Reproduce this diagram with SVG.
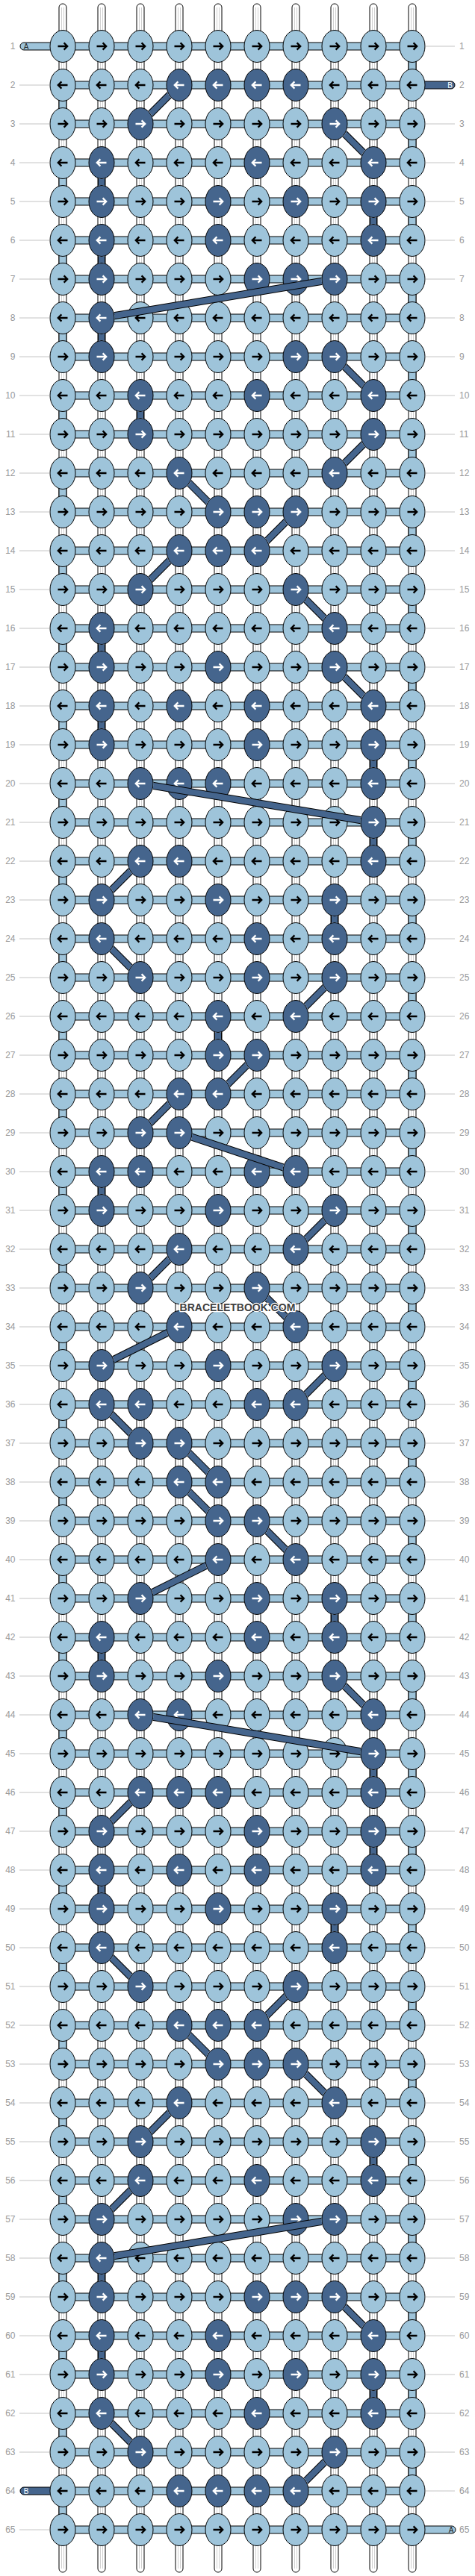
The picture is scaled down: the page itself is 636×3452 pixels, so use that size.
<svg xmlns="http://www.w3.org/2000/svg" width="636" height="3452" viewBox="0 0 636 3452">
<style>
.str rect{fill:#fff;stroke:#000;stroke-width:1}
.str path{stroke:#c4c4c4;stroke-width:.8;fill:none}
.edge{fill:#9ec4da;stroke:#000;stroke-width:1}
.bars rect{fill:#9ec4da;stroke:#000;stroke-width:1}
#knots{color:#000}
#knots ellipse{rx:17px;ry:21.5px;fill:#9ec4da;stroke:#000;stroke-width:1}
#knots .d{color:#fff}
#knots .d ellipse{fill:#45658d}
.ar{fill:none;stroke:currentColor;stroke-width:2.3}
#cut ellipse{rx:17.6px;ry:22px;fill:#000}
.bo path{stroke:#000;stroke-width:10;fill:none}
.bi path{stroke:#45658d;stroke-width:8;fill:none}
.ll{stroke:#c4c4c4;stroke-width:1;fill:none}
.lab text{font-family:'Liberation Sans',Arial,sans-serif;font-size:12px;fill:#999}
.le text{text-anchor:end}
.tl{stroke:#000;stroke-width:1}
.ta{fill:#9ec4da}
.tb{fill:#45658d}
.tt{font-family:'Liberation Sans',Arial,sans-serif;font-size:10px;text-anchor:middle}
.wm{font-family:'Liberation Sans',Arial,sans-serif;font-weight:bold;font-size:14px;text-anchor:middle;fill:#404040;stroke:#fff;stroke-width:2.5;paint-order:stroke;stroke-linejoin:round}
</style>
<defs>
<path id="R" class="ar" d="M-6.5 0H5.5M1.6-4.6L6.2 0L1.6 4.6"/>
<path id="L" class="ar" d="M6.5 0H-5.5M-1.6-4.6L-6.2 0L-1.6 4.6"/>
<mask id="cut" maskUnits="userSpaceOnUse" x="0" y="0" width="636" height="3452">
<rect width="636" height="3452" fill="#fff"/>
<ellipse cx="240" cy="114"/>
<ellipse cx="188" cy="166"/><ellipse cx="448" cy="166"/>
<ellipse cx="136" cy="218"/><ellipse cx="500" cy="218"/>
<ellipse cx="136" cy="270"/><ellipse cx="500" cy="270"/>
<ellipse cx="136" cy="322"/><ellipse cx="500" cy="322"/>
<ellipse cx="136" cy="374"/><ellipse cx="448" cy="374"/>
<ellipse cx="136" cy="426"/>
<ellipse cx="136" cy="478"/><ellipse cx="448" cy="478"/>
<ellipse cx="188" cy="530"/><ellipse cx="500" cy="530"/>
<ellipse cx="188" cy="582"/><ellipse cx="500" cy="582"/>
<ellipse cx="240" cy="634"/><ellipse cx="448" cy="634"/>
<ellipse cx="292" cy="686"/><ellipse cx="396" cy="686"/>
<ellipse cx="240" cy="738"/><ellipse cx="344" cy="738"/>
<ellipse cx="188" cy="790"/><ellipse cx="396" cy="790"/>
<ellipse cx="136" cy="842"/><ellipse cx="448" cy="842"/>
<ellipse cx="136" cy="894"/><ellipse cx="448" cy="894"/>
<ellipse cx="136" cy="946"/><ellipse cx="500" cy="946"/>
<ellipse cx="136" cy="998"/><ellipse cx="500" cy="998"/>
<ellipse cx="188" cy="1050"/><ellipse cx="500" cy="1050"/>
<ellipse cx="500" cy="1102"/>
<ellipse cx="188" cy="1154"/><ellipse cx="500" cy="1154"/>
<ellipse cx="136" cy="1206"/><ellipse cx="448" cy="1206"/>
<ellipse cx="136" cy="1258"/><ellipse cx="448" cy="1258"/>
<ellipse cx="188" cy="1310"/><ellipse cx="448" cy="1310"/>
<ellipse cx="292" cy="1362"/><ellipse cx="396" cy="1362"/>
<ellipse cx="292" cy="1414"/><ellipse cx="344" cy="1414"/>
<ellipse cx="240" cy="1466"/><ellipse cx="292" cy="1466"/>
<ellipse cx="188" cy="1518"/><ellipse cx="240" cy="1518"/>
<ellipse cx="136" cy="1570"/><ellipse cx="396" cy="1570"/>
<ellipse cx="136" cy="1622"/><ellipse cx="448" cy="1622"/>
<ellipse cx="240" cy="1674"/><ellipse cx="396" cy="1674"/>
<ellipse cx="188" cy="1726"/><ellipse cx="344" cy="1726"/>
<ellipse cx="240" cy="1778"/><ellipse cx="396" cy="1778"/>
<ellipse cx="136" cy="1830"/><ellipse cx="448" cy="1830"/>
<ellipse cx="136" cy="1882"/><ellipse cx="396" cy="1882"/>
<ellipse cx="188" cy="1934"/><ellipse cx="240" cy="1934"/>
<ellipse cx="240" cy="1986"/><ellipse cx="292" cy="1986"/>
<ellipse cx="292" cy="2038"/><ellipse cx="344" cy="2038"/>
<ellipse cx="292" cy="2090"/><ellipse cx="396" cy="2090"/>
<ellipse cx="188" cy="2142"/><ellipse cx="448" cy="2142"/>
<ellipse cx="136" cy="2194"/><ellipse cx="448" cy="2194"/>
<ellipse cx="136" cy="2246"/><ellipse cx="448" cy="2246"/>
<ellipse cx="188" cy="2298"/><ellipse cx="500" cy="2298"/>
<ellipse cx="500" cy="2350"/>
<ellipse cx="188" cy="2402"/><ellipse cx="500" cy="2402"/>
<ellipse cx="136" cy="2454"/><ellipse cx="500" cy="2454"/>
<ellipse cx="136" cy="2506"/><ellipse cx="500" cy="2506"/>
<ellipse cx="136" cy="2558"/><ellipse cx="448" cy="2558"/>
<ellipse cx="136" cy="2610"/><ellipse cx="448" cy="2610"/>
<ellipse cx="188" cy="2662"/><ellipse cx="396" cy="2662"/>
<ellipse cx="240" cy="2714"/><ellipse cx="344" cy="2714"/>
<ellipse cx="292" cy="2766"/><ellipse cx="396" cy="2766"/>
<ellipse cx="240" cy="2818"/><ellipse cx="448" cy="2818"/>
<ellipse cx="188" cy="2870"/><ellipse cx="500" cy="2870"/>
<ellipse cx="188" cy="2922"/><ellipse cx="500" cy="2922"/>
<ellipse cx="136" cy="2974"/><ellipse cx="448" cy="2974"/>
<ellipse cx="136" cy="3026"/>
<ellipse cx="136" cy="3078"/><ellipse cx="448" cy="3078"/>
<ellipse cx="136" cy="3130"/><ellipse cx="500" cy="3130"/>
<ellipse cx="136" cy="3182"/><ellipse cx="500" cy="3182"/>
<ellipse cx="136" cy="3234"/><ellipse cx="500" cy="3234"/>
<ellipse cx="188" cy="3286"/><ellipse cx="448" cy="3286"/>
<ellipse cx="396" cy="3338"/>
</mask>
</defs>
<rect width="636" height="3452" fill="#fff"/>
<g id="strings" class="str">
<rect x="79" y="5" width="10" height="3442" rx="5"/>
<rect x="131" y="5" width="10" height="3442" rx="5"/>
<rect x="183" y="5" width="10" height="3442" rx="5"/>
<rect x="235" y="5" width="10" height="3442" rx="5"/>
<rect x="287" y="5" width="10" height="3442" rx="5"/>
<rect x="339" y="5" width="10" height="3442" rx="5"/>
<rect x="391" y="5" width="10" height="3442" rx="5"/>
<rect x="443" y="5" width="10" height="3442" rx="5"/>
<rect x="495" y="5" width="10" height="3442" rx="5"/>
<rect x="547" y="5" width="10" height="3442" rx="5"/>
<path d="M82.5 10V3442M85.5 10V3442M134.5 10V3442M137.5 10V3442M186.5 10V3442M189.5 10V3442M238.5 10V3442M241.5 10V3442M290.5 10V3442M293.5 10V3442M342.5 10V3442M345.5 10V3442M394.5 10V3442M397.5 10V3442M446.5 10V3442M449.5 10V3442M498.5 10V3442M501.5 10V3442M550.5 10V3442M553.5 10V3442"/>
</g>
<g id="a-thread">
<path class="edge" d="M547 62h10v52h-10zM547 166h10v52h-10zM547 270h10v52h-10zM547 374h10v52h-10zM547 478h10v52h-10zM547 582h10v52h-10zM547 686h10v52h-10zM547 790h10v52h-10zM547 894h10v52h-10zM547 998h10v52h-10zM547 1102h10v52h-10zM547 1206h10v52h-10zM547 1310h10v52h-10zM547 1414h10v52h-10zM547 1518h10v52h-10zM547 1622h10v52h-10zM547 1726h10v52h-10zM547 1830h10v52h-10zM547 1934h10v52h-10zM547 2038h10v52h-10zM547 2142h10v52h-10zM547 2246h10v52h-10zM547 2350h10v52h-10zM547 2454h10v52h-10zM547 2558h10v52h-10zM547 2662h10v52h-10zM547 2766h10v52h-10zM547 2870h10v52h-10zM547 2974h10v52h-10zM547 3078h10v52h-10zM547 3182h10v52h-10zM547 3286h10v52h-10z"/>
<path class="edge" d="M79 114h10v52h-10zM79 218h10v52h-10zM79 322h10v52h-10zM79 426h10v52h-10zM79 530h10v52h-10zM79 634h10v52h-10zM79 738h10v52h-10zM79 842h10v52h-10zM79 946h10v52h-10zM79 1050h10v52h-10zM79 1154h10v52h-10zM79 1258h10v52h-10zM79 1362h10v52h-10zM79 1466h10v52h-10zM79 1570h10v52h-10zM79 1674h10v52h-10zM79 1778h10v52h-10zM79 1882h10v52h-10zM79 1986h10v52h-10zM79 2090h10v52h-10zM79 2194h10v52h-10zM79 2298h10v52h-10zM79 2402h10v52h-10zM79 2506h10v52h-10zM79 2610h10v52h-10zM79 2714h10v52h-10zM79 2818h10v52h-10zM79 2922h10v52h-10zM79 3026h10v52h-10zM79 3130h10v52h-10zM79 3234h10v52h-10zM79 3338h10v52h-10z"/>
<g class="bars">
<rect x="84" y="57" width="468" height="10"/><rect x="84" y="109" width="468" height="10"/><rect x="84" y="161" width="468" height="10"/><rect x="84" y="213" width="468" height="10"/><rect x="84" y="265" width="468" height="10"/>
<rect x="84" y="317" width="468" height="10"/><rect x="84" y="369" width="468" height="10"/><rect x="84" y="421" width="468" height="10"/><rect x="84" y="473" width="468" height="10"/><rect x="84" y="525" width="468" height="10"/>
<rect x="84" y="577" width="468" height="10"/><rect x="84" y="629" width="468" height="10"/><rect x="84" y="681" width="468" height="10"/><rect x="84" y="733" width="468" height="10"/><rect x="84" y="785" width="468" height="10"/>
<rect x="84" y="837" width="468" height="10"/><rect x="84" y="889" width="468" height="10"/><rect x="84" y="941" width="468" height="10"/><rect x="84" y="993" width="468" height="10"/><rect x="84" y="1045" width="468" height="10"/>
<rect x="84" y="1097" width="468" height="10"/><rect x="84" y="1149" width="468" height="10"/><rect x="84" y="1201" width="468" height="10"/><rect x="84" y="1253" width="468" height="10"/><rect x="84" y="1305" width="468" height="10"/>
<rect x="84" y="1357" width="468" height="10"/><rect x="84" y="1409" width="468" height="10"/><rect x="84" y="1461" width="468" height="10"/><rect x="84" y="1513" width="468" height="10"/><rect x="84" y="1565" width="468" height="10"/>
<rect x="84" y="1617" width="468" height="10"/><rect x="84" y="1669" width="468" height="10"/><rect x="84" y="1721" width="468" height="10"/><rect x="84" y="1773" width="468" height="10"/><rect x="84" y="1825" width="468" height="10"/>
<rect x="84" y="1877" width="468" height="10"/><rect x="84" y="1929" width="468" height="10"/><rect x="84" y="1981" width="468" height="10"/><rect x="84" y="2033" width="468" height="10"/><rect x="84" y="2085" width="468" height="10"/>
<rect x="84" y="2137" width="468" height="10"/><rect x="84" y="2189" width="468" height="10"/><rect x="84" y="2241" width="468" height="10"/><rect x="84" y="2293" width="468" height="10"/><rect x="84" y="2345" width="468" height="10"/>
<rect x="84" y="2397" width="468" height="10"/><rect x="84" y="2449" width="468" height="10"/><rect x="84" y="2501" width="468" height="10"/><rect x="84" y="2553" width="468" height="10"/><rect x="84" y="2605" width="468" height="10"/>
<rect x="84" y="2657" width="468" height="10"/><rect x="84" y="2709" width="468" height="10"/><rect x="84" y="2761" width="468" height="10"/><rect x="84" y="2813" width="468" height="10"/><rect x="84" y="2865" width="468" height="10"/>
<rect x="84" y="2917" width="468" height="10"/><rect x="84" y="2969" width="468" height="10"/><rect x="84" y="3021" width="468" height="10"/><rect x="84" y="3073" width="468" height="10"/><rect x="84" y="3125" width="468" height="10"/>
<rect x="84" y="3177" width="468" height="10"/><rect x="84" y="3229" width="468" height="10"/><rect x="84" y="3281" width="468" height="10"/><rect x="84" y="3333" width="468" height="10"/><rect x="84" y="3385" width="468" height="10"/>
</g>
</g>
<g id="tails">
<path class="ta tl" d="M84 57H32a5 5 0 0 0 0 10H84z"/><text class="tt" x="35" y="65.5" fill="#222">A</text>
<path class="tb tl" d="M552 109H604a5 5 0 0 1 0 10H552z"/><text class="tt" x="602.5" y="117.5" fill="#fff">B</text>
<path class="tb tl" d="M84 3333H32a5 5 0 0 0 0 10H84z"/><text class="tt" x="35" y="3341.5" fill="#fff">B</text>
<path class="ta tl" d="M552 3385H605a5 5 0 0 1 0 10H552z"/><text class="tt" x="604" y="3393.5" fill="#222">A</text>
</g>
<g id="knots">
<g id="k1_1" transform="translate(84 62)"><ellipse/><use href="#R"/></g><g id="k1_2" transform="translate(136 62)"><ellipse/><use href="#R"/></g><g id="k1_3" transform="translate(188 62)"><ellipse/><use href="#R"/></g><g id="k1_4" transform="translate(240 62)"><ellipse/><use href="#R"/></g><g id="k1_5" transform="translate(292 62)"><ellipse/><use href="#R"/></g><g id="k1_6" transform="translate(344 62)"><ellipse/><use href="#R"/></g><g id="k1_7" transform="translate(396 62)"><ellipse/><use href="#R"/></g><g id="k1_8" transform="translate(448 62)"><ellipse/><use href="#R"/></g><g id="k1_9" transform="translate(500 62)"><ellipse/><use href="#R"/></g><g id="k1_10" transform="translate(552 62)"><ellipse/><use href="#R"/></g>
<g id="k2_1" transform="translate(84 114)"><ellipse/><use href="#L"/></g><g id="k2_2" transform="translate(136 114)"><ellipse/><use href="#L"/></g><g id="k2_3" transform="translate(188 114)"><ellipse/><use href="#L"/></g><g id="k2_4" class="d" transform="translate(240 114)"><ellipse/><use href="#L"/></g><g id="k2_5" class="d" transform="translate(292 114)"><ellipse/><use href="#L"/></g><g id="k2_6" class="d" transform="translate(344 114)"><ellipse/><use href="#L"/></g><g id="k2_7" class="d" transform="translate(396 114)"><ellipse/><use href="#L"/></g><g id="k2_8" transform="translate(448 114)"><ellipse/><use href="#L"/></g><g id="k2_9" transform="translate(500 114)"><ellipse/><use href="#L"/></g><g id="k2_10" transform="translate(552 114)"><ellipse/><use href="#L"/></g>
<g id="k3_1" transform="translate(84 166)"><ellipse/><use href="#R"/></g><g id="k3_2" transform="translate(136 166)"><ellipse/><use href="#R"/></g><g id="k3_3" class="d" transform="translate(188 166)"><ellipse/><use href="#R"/></g><g id="k3_4" transform="translate(240 166)"><ellipse/><use href="#R"/></g><g id="k3_5" transform="translate(292 166)"><ellipse/><use href="#R"/></g><g id="k3_6" transform="translate(344 166)"><ellipse/><use href="#R"/></g><g id="k3_7" transform="translate(396 166)"><ellipse/><use href="#R"/></g><g id="k3_8" class="d" transform="translate(448 166)"><ellipse/><use href="#R"/></g><g id="k3_9" transform="translate(500 166)"><ellipse/><use href="#R"/></g><g id="k3_10" transform="translate(552 166)"><ellipse/><use href="#R"/></g>
<g id="k4_1" transform="translate(84 218)"><ellipse/><use href="#L"/></g><g id="k4_2" class="d" transform="translate(136 218)"><ellipse/><use href="#L"/></g><g id="k4_3" transform="translate(188 218)"><ellipse/><use href="#L"/></g><g id="k4_4" transform="translate(240 218)"><ellipse/><use href="#L"/></g><g id="k4_5" transform="translate(292 218)"><ellipse/><use href="#L"/></g><g id="k4_6" class="d" transform="translate(344 218)"><ellipse/><use href="#L"/></g><g id="k4_7" transform="translate(396 218)"><ellipse/><use href="#L"/></g><g id="k4_8" transform="translate(448 218)"><ellipse/><use href="#L"/></g><g id="k4_9" class="d" transform="translate(500 218)"><ellipse/><use href="#L"/></g><g id="k4_10" transform="translate(552 218)"><ellipse/><use href="#L"/></g>
<g id="k5_1" transform="translate(84 270)"><ellipse/><use href="#R"/></g><g id="k5_2" class="d" transform="translate(136 270)"><ellipse/><use href="#R"/></g><g id="k5_3" transform="translate(188 270)"><ellipse/><use href="#R"/></g><g id="k5_4" transform="translate(240 270)"><ellipse/><use href="#R"/></g><g id="k5_5" class="d" transform="translate(292 270)"><ellipse/><use href="#R"/></g><g id="k5_6" transform="translate(344 270)"><ellipse/><use href="#R"/></g><g id="k5_7" class="d" transform="translate(396 270)"><ellipse/><use href="#R"/></g><g id="k5_8" transform="translate(448 270)"><ellipse/><use href="#R"/></g><g id="k5_9" class="d" transform="translate(500 270)"><ellipse/><use href="#R"/></g><g id="k5_10" transform="translate(552 270)"><ellipse/><use href="#R"/></g>
<g id="k6_1" transform="translate(84 322)"><ellipse/><use href="#L"/></g><g id="k6_2" class="d" transform="translate(136 322)"><ellipse/><use href="#L"/></g><g id="k6_3" transform="translate(188 322)"><ellipse/><use href="#L"/></g><g id="k6_4" transform="translate(240 322)"><ellipse/><use href="#L"/></g><g id="k6_5" class="d" transform="translate(292 322)"><ellipse/><use href="#L"/></g><g id="k6_6" transform="translate(344 322)"><ellipse/><use href="#L"/></g><g id="k6_7" transform="translate(396 322)"><ellipse/><use href="#L"/></g><g id="k6_8" transform="translate(448 322)"><ellipse/><use href="#L"/></g><g id="k6_9" class="d" transform="translate(500 322)"><ellipse/><use href="#L"/></g><g id="k6_10" transform="translate(552 322)"><ellipse/><use href="#L"/></g>
<g id="k7_1" transform="translate(84 374)"><ellipse/><use href="#R"/></g><g id="k7_2" class="d" transform="translate(136 374)"><ellipse/><use href="#R"/></g><g id="k7_3" transform="translate(188 374)"><ellipse/><use href="#R"/></g><g id="k7_4" transform="translate(240 374)"><ellipse/><use href="#R"/></g><g id="k7_5" transform="translate(292 374)"><ellipse/><use href="#R"/></g><g id="k7_6" class="d" transform="translate(344 374)"><ellipse/><use href="#R"/></g><g id="k7_7" class="d" transform="translate(396 374)"><ellipse/><use href="#R"/></g><g id="k7_8" class="d" transform="translate(448 374)"><ellipse/><use href="#R"/></g><g id="k7_9" transform="translate(500 374)"><ellipse/><use href="#R"/></g><g id="k7_10" transform="translate(552 374)"><ellipse/><use href="#R"/></g>
<g id="k8_1" transform="translate(84 426)"><ellipse/><use href="#L"/></g><g id="k8_2" class="d" transform="translate(136 426)"><ellipse/><use href="#L"/></g><g id="k8_3" transform="translate(188 426)"><ellipse/><use href="#L"/></g><g id="k8_4" transform="translate(240 426)"><ellipse/><use href="#L"/></g><g id="k8_5" transform="translate(292 426)"><ellipse/><use href="#L"/></g><g id="k8_6" transform="translate(344 426)"><ellipse/><use href="#L"/></g><g id="k8_7" transform="translate(396 426)"><ellipse/><use href="#L"/></g><g id="k8_8" transform="translate(448 426)"><ellipse/><use href="#L"/></g><g id="k8_9" transform="translate(500 426)"><ellipse/><use href="#L"/></g><g id="k8_10" transform="translate(552 426)"><ellipse/><use href="#L"/></g>
<g id="k9_1" transform="translate(84 478)"><ellipse/><use href="#R"/></g><g id="k9_2" class="d" transform="translate(136 478)"><ellipse/><use href="#R"/></g><g id="k9_3" transform="translate(188 478)"><ellipse/><use href="#R"/></g><g id="k9_4" transform="translate(240 478)"><ellipse/><use href="#R"/></g><g id="k9_5" transform="translate(292 478)"><ellipse/><use href="#R"/></g><g id="k9_6" transform="translate(344 478)"><ellipse/><use href="#R"/></g><g id="k9_7" class="d" transform="translate(396 478)"><ellipse/><use href="#R"/></g><g id="k9_8" class="d" transform="translate(448 478)"><ellipse/><use href="#R"/></g><g id="k9_9" transform="translate(500 478)"><ellipse/><use href="#R"/></g><g id="k9_10" transform="translate(552 478)"><ellipse/><use href="#R"/></g>
<g id="k10_1" transform="translate(84 530)"><ellipse/><use href="#L"/></g><g id="k10_2" transform="translate(136 530)"><ellipse/><use href="#L"/></g><g id="k10_3" class="d" transform="translate(188 530)"><ellipse/><use href="#L"/></g><g id="k10_4" transform="translate(240 530)"><ellipse/><use href="#L"/></g><g id="k10_5" transform="translate(292 530)"><ellipse/><use href="#L"/></g><g id="k10_6" class="d" transform="translate(344 530)"><ellipse/><use href="#L"/></g><g id="k10_7" transform="translate(396 530)"><ellipse/><use href="#L"/></g><g id="k10_8" transform="translate(448 530)"><ellipse/><use href="#L"/></g><g id="k10_9" class="d" transform="translate(500 530)"><ellipse/><use href="#L"/></g><g id="k10_10" transform="translate(552 530)"><ellipse/><use href="#L"/></g>
<g id="k11_1" transform="translate(84 582)"><ellipse/><use href="#R"/></g><g id="k11_2" transform="translate(136 582)"><ellipse/><use href="#R"/></g><g id="k11_3" class="d" transform="translate(188 582)"><ellipse/><use href="#R"/></g><g id="k11_4" transform="translate(240 582)"><ellipse/><use href="#R"/></g><g id="k11_5" transform="translate(292 582)"><ellipse/><use href="#R"/></g><g id="k11_6" transform="translate(344 582)"><ellipse/><use href="#R"/></g><g id="k11_7" transform="translate(396 582)"><ellipse/><use href="#R"/></g><g id="k11_8" transform="translate(448 582)"><ellipse/><use href="#R"/></g><g id="k11_9" class="d" transform="translate(500 582)"><ellipse/><use href="#R"/></g><g id="k11_10" transform="translate(552 582)"><ellipse/><use href="#R"/></g>
<g id="k12_1" transform="translate(84 634)"><ellipse/><use href="#L"/></g><g id="k12_2" transform="translate(136 634)"><ellipse/><use href="#L"/></g><g id="k12_3" transform="translate(188 634)"><ellipse/><use href="#L"/></g><g id="k12_4" class="d" transform="translate(240 634)"><ellipse/><use href="#L"/></g><g id="k12_5" transform="translate(292 634)"><ellipse/><use href="#L"/></g><g id="k12_6" transform="translate(344 634)"><ellipse/><use href="#L"/></g><g id="k12_7" transform="translate(396 634)"><ellipse/><use href="#L"/></g><g id="k12_8" class="d" transform="translate(448 634)"><ellipse/><use href="#L"/></g><g id="k12_9" transform="translate(500 634)"><ellipse/><use href="#L"/></g><g id="k12_10" transform="translate(552 634)"><ellipse/><use href="#L"/></g>
<g id="k13_1" transform="translate(84 686)"><ellipse/><use href="#R"/></g><g id="k13_2" transform="translate(136 686)"><ellipse/><use href="#R"/></g><g id="k13_3" transform="translate(188 686)"><ellipse/><use href="#R"/></g><g id="k13_4" transform="translate(240 686)"><ellipse/><use href="#R"/></g><g id="k13_5" class="d" transform="translate(292 686)"><ellipse/><use href="#R"/></g><g id="k13_6" class="d" transform="translate(344 686)"><ellipse/><use href="#R"/></g><g id="k13_7" class="d" transform="translate(396 686)"><ellipse/><use href="#R"/></g><g id="k13_8" transform="translate(448 686)"><ellipse/><use href="#R"/></g><g id="k13_9" transform="translate(500 686)"><ellipse/><use href="#R"/></g><g id="k13_10" transform="translate(552 686)"><ellipse/><use href="#R"/></g>
<g id="k14_1" transform="translate(84 738)"><ellipse/><use href="#L"/></g><g id="k14_2" transform="translate(136 738)"><ellipse/><use href="#L"/></g><g id="k14_3" transform="translate(188 738)"><ellipse/><use href="#L"/></g><g id="k14_4" class="d" transform="translate(240 738)"><ellipse/><use href="#L"/></g><g id="k14_5" class="d" transform="translate(292 738)"><ellipse/><use href="#L"/></g><g id="k14_6" class="d" transform="translate(344 738)"><ellipse/><use href="#L"/></g><g id="k14_7" transform="translate(396 738)"><ellipse/><use href="#L"/></g><g id="k14_8" transform="translate(448 738)"><ellipse/><use href="#L"/></g><g id="k14_9" transform="translate(500 738)"><ellipse/><use href="#L"/></g><g id="k14_10" transform="translate(552 738)"><ellipse/><use href="#L"/></g>
<g id="k15_1" transform="translate(84 790)"><ellipse/><use href="#R"/></g><g id="k15_2" transform="translate(136 790)"><ellipse/><use href="#R"/></g><g id="k15_3" class="d" transform="translate(188 790)"><ellipse/><use href="#R"/></g><g id="k15_4" transform="translate(240 790)"><ellipse/><use href="#R"/></g><g id="k15_5" transform="translate(292 790)"><ellipse/><use href="#R"/></g><g id="k15_6" transform="translate(344 790)"><ellipse/><use href="#R"/></g><g id="k15_7" class="d" transform="translate(396 790)"><ellipse/><use href="#R"/></g><g id="k15_8" transform="translate(448 790)"><ellipse/><use href="#R"/></g><g id="k15_9" transform="translate(500 790)"><ellipse/><use href="#R"/></g><g id="k15_10" transform="translate(552 790)"><ellipse/><use href="#R"/></g>
<g id="k16_1" transform="translate(84 842)"><ellipse/><use href="#L"/></g><g id="k16_2" class="d" transform="translate(136 842)"><ellipse/><use href="#L"/></g><g id="k16_3" transform="translate(188 842)"><ellipse/><use href="#L"/></g><g id="k16_4" transform="translate(240 842)"><ellipse/><use href="#L"/></g><g id="k16_5" transform="translate(292 842)"><ellipse/><use href="#L"/></g><g id="k16_6" transform="translate(344 842)"><ellipse/><use href="#L"/></g><g id="k16_7" transform="translate(396 842)"><ellipse/><use href="#L"/></g><g id="k16_8" class="d" transform="translate(448 842)"><ellipse/><use href="#L"/></g><g id="k16_9" transform="translate(500 842)"><ellipse/><use href="#L"/></g><g id="k16_10" transform="translate(552 842)"><ellipse/><use href="#L"/></g>
<g id="k17_1" transform="translate(84 894)"><ellipse/><use href="#R"/></g><g id="k17_2" class="d" transform="translate(136 894)"><ellipse/><use href="#R"/></g><g id="k17_3" transform="translate(188 894)"><ellipse/><use href="#R"/></g><g id="k17_4" transform="translate(240 894)"><ellipse/><use href="#R"/></g><g id="k17_5" class="d" transform="translate(292 894)"><ellipse/><use href="#R"/></g><g id="k17_6" transform="translate(344 894)"><ellipse/><use href="#R"/></g><g id="k17_7" transform="translate(396 894)"><ellipse/><use href="#R"/></g><g id="k17_8" class="d" transform="translate(448 894)"><ellipse/><use href="#R"/></g><g id="k17_9" transform="translate(500 894)"><ellipse/><use href="#R"/></g><g id="k17_10" transform="translate(552 894)"><ellipse/><use href="#R"/></g>
<g id="k18_1" transform="translate(84 946)"><ellipse/><use href="#L"/></g><g id="k18_2" class="d" transform="translate(136 946)"><ellipse/><use href="#L"/></g><g id="k18_3" transform="translate(188 946)"><ellipse/><use href="#L"/></g><g id="k18_4" class="d" transform="translate(240 946)"><ellipse/><use href="#L"/></g><g id="k18_5" transform="translate(292 946)"><ellipse/><use href="#L"/></g><g id="k18_6" class="d" transform="translate(344 946)"><ellipse/><use href="#L"/></g><g id="k18_7" transform="translate(396 946)"><ellipse/><use href="#L"/></g><g id="k18_8" transform="translate(448 946)"><ellipse/><use href="#L"/></g><g id="k18_9" class="d" transform="translate(500 946)"><ellipse/><use href="#L"/></g><g id="k18_10" transform="translate(552 946)"><ellipse/><use href="#L"/></g>
<g id="k19_1" transform="translate(84 998)"><ellipse/><use href="#R"/></g><g id="k19_2" class="d" transform="translate(136 998)"><ellipse/><use href="#R"/></g><g id="k19_3" transform="translate(188 998)"><ellipse/><use href="#R"/></g><g id="k19_4" transform="translate(240 998)"><ellipse/><use href="#R"/></g><g id="k19_5" transform="translate(292 998)"><ellipse/><use href="#R"/></g><g id="k19_6" class="d" transform="translate(344 998)"><ellipse/><use href="#R"/></g><g id="k19_7" transform="translate(396 998)"><ellipse/><use href="#R"/></g><g id="k19_8" transform="translate(448 998)"><ellipse/><use href="#R"/></g><g id="k19_9" class="d" transform="translate(500 998)"><ellipse/><use href="#R"/></g><g id="k19_10" transform="translate(552 998)"><ellipse/><use href="#R"/></g>
<g id="k20_1" transform="translate(84 1050)"><ellipse/><use href="#L"/></g><g id="k20_2" transform="translate(136 1050)"><ellipse/><use href="#L"/></g><g id="k20_3" class="d" transform="translate(188 1050)"><ellipse/><use href="#L"/></g><g id="k20_4" class="d" transform="translate(240 1050)"><ellipse/><use href="#L"/></g><g id="k20_5" class="d" transform="translate(292 1050)"><ellipse/><use href="#L"/></g><g id="k20_6" transform="translate(344 1050)"><ellipse/><use href="#L"/></g><g id="k20_7" transform="translate(396 1050)"><ellipse/><use href="#L"/></g><g id="k20_8" transform="translate(448 1050)"><ellipse/><use href="#L"/></g><g id="k20_9" class="d" transform="translate(500 1050)"><ellipse/><use href="#L"/></g><g id="k20_10" transform="translate(552 1050)"><ellipse/><use href="#L"/></g>
<g id="k21_1" transform="translate(84 1102)"><ellipse/><use href="#R"/></g><g id="k21_2" transform="translate(136 1102)"><ellipse/><use href="#R"/></g><g id="k21_3" transform="translate(188 1102)"><ellipse/><use href="#R"/></g><g id="k21_4" transform="translate(240 1102)"><ellipse/><use href="#R"/></g><g id="k21_5" transform="translate(292 1102)"><ellipse/><use href="#R"/></g><g id="k21_6" transform="translate(344 1102)"><ellipse/><use href="#R"/></g><g id="k21_7" transform="translate(396 1102)"><ellipse/><use href="#R"/></g><g id="k21_8" transform="translate(448 1102)"><ellipse/><use href="#R"/></g><g id="k21_9" class="d" transform="translate(500 1102)"><ellipse/><use href="#R"/></g><g id="k21_10" transform="translate(552 1102)"><ellipse/><use href="#R"/></g>
<g id="k22_1" transform="translate(84 1154)"><ellipse/><use href="#L"/></g><g id="k22_2" transform="translate(136 1154)"><ellipse/><use href="#L"/></g><g id="k22_3" class="d" transform="translate(188 1154)"><ellipse/><use href="#L"/></g><g id="k22_4" class="d" transform="translate(240 1154)"><ellipse/><use href="#L"/></g><g id="k22_5" transform="translate(292 1154)"><ellipse/><use href="#L"/></g><g id="k22_6" transform="translate(344 1154)"><ellipse/><use href="#L"/></g><g id="k22_7" transform="translate(396 1154)"><ellipse/><use href="#L"/></g><g id="k22_8" transform="translate(448 1154)"><ellipse/><use href="#L"/></g><g id="k22_9" class="d" transform="translate(500 1154)"><ellipse/><use href="#L"/></g><g id="k22_10" transform="translate(552 1154)"><ellipse/><use href="#L"/></g>
<g id="k23_1" transform="translate(84 1206)"><ellipse/><use href="#R"/></g><g id="k23_2" class="d" transform="translate(136 1206)"><ellipse/><use href="#R"/></g><g id="k23_3" transform="translate(188 1206)"><ellipse/><use href="#R"/></g><g id="k23_4" transform="translate(240 1206)"><ellipse/><use href="#R"/></g><g id="k23_5" class="d" transform="translate(292 1206)"><ellipse/><use href="#R"/></g><g id="k23_6" transform="translate(344 1206)"><ellipse/><use href="#R"/></g><g id="k23_7" transform="translate(396 1206)"><ellipse/><use href="#R"/></g><g id="k23_8" class="d" transform="translate(448 1206)"><ellipse/><use href="#R"/></g><g id="k23_9" transform="translate(500 1206)"><ellipse/><use href="#R"/></g><g id="k23_10" transform="translate(552 1206)"><ellipse/><use href="#R"/></g>
<g id="k24_1" transform="translate(84 1258)"><ellipse/><use href="#L"/></g><g id="k24_2" class="d" transform="translate(136 1258)"><ellipse/><use href="#L"/></g><g id="k24_3" transform="translate(188 1258)"><ellipse/><use href="#L"/></g><g id="k24_4" transform="translate(240 1258)"><ellipse/><use href="#L"/></g><g id="k24_5" transform="translate(292 1258)"><ellipse/><use href="#L"/></g><g id="k24_6" class="d" transform="translate(344 1258)"><ellipse/><use href="#L"/></g><g id="k24_7" transform="translate(396 1258)"><ellipse/><use href="#L"/></g><g id="k24_8" class="d" transform="translate(448 1258)"><ellipse/><use href="#L"/></g><g id="k24_9" transform="translate(500 1258)"><ellipse/><use href="#L"/></g><g id="k24_10" transform="translate(552 1258)"><ellipse/><use href="#L"/></g>
<g id="k25_1" transform="translate(84 1310)"><ellipse/><use href="#R"/></g><g id="k25_2" transform="translate(136 1310)"><ellipse/><use href="#R"/></g><g id="k25_3" class="d" transform="translate(188 1310)"><ellipse/><use href="#R"/></g><g id="k25_4" transform="translate(240 1310)"><ellipse/><use href="#R"/></g><g id="k25_5" transform="translate(292 1310)"><ellipse/><use href="#R"/></g><g id="k25_6" class="d" transform="translate(344 1310)"><ellipse/><use href="#R"/></g><g id="k25_7" transform="translate(396 1310)"><ellipse/><use href="#R"/></g><g id="k25_8" class="d" transform="translate(448 1310)"><ellipse/><use href="#R"/></g><g id="k25_9" transform="translate(500 1310)"><ellipse/><use href="#R"/></g><g id="k25_10" transform="translate(552 1310)"><ellipse/><use href="#R"/></g>
<g id="k26_1" transform="translate(84 1362)"><ellipse/><use href="#L"/></g><g id="k26_2" transform="translate(136 1362)"><ellipse/><use href="#L"/></g><g id="k26_3" transform="translate(188 1362)"><ellipse/><use href="#L"/></g><g id="k26_4" transform="translate(240 1362)"><ellipse/><use href="#L"/></g><g id="k26_5" class="d" transform="translate(292 1362)"><ellipse/><use href="#L"/></g><g id="k26_6" transform="translate(344 1362)"><ellipse/><use href="#L"/></g><g id="k26_7" class="d" transform="translate(396 1362)"><ellipse/><use href="#L"/></g><g id="k26_8" transform="translate(448 1362)"><ellipse/><use href="#L"/></g><g id="k26_9" transform="translate(500 1362)"><ellipse/><use href="#L"/></g><g id="k26_10" transform="translate(552 1362)"><ellipse/><use href="#L"/></g>
<g id="k27_1" transform="translate(84 1414)"><ellipse/><use href="#R"/></g><g id="k27_2" transform="translate(136 1414)"><ellipse/><use href="#R"/></g><g id="k27_3" transform="translate(188 1414)"><ellipse/><use href="#R"/></g><g id="k27_4" transform="translate(240 1414)"><ellipse/><use href="#R"/></g><g id="k27_5" class="d" transform="translate(292 1414)"><ellipse/><use href="#R"/></g><g id="k27_6" class="d" transform="translate(344 1414)"><ellipse/><use href="#R"/></g><g id="k27_7" transform="translate(396 1414)"><ellipse/><use href="#R"/></g><g id="k27_8" transform="translate(448 1414)"><ellipse/><use href="#R"/></g><g id="k27_9" transform="translate(500 1414)"><ellipse/><use href="#R"/></g><g id="k27_10" transform="translate(552 1414)"><ellipse/><use href="#R"/></g>
<g id="k28_1" transform="translate(84 1466)"><ellipse/><use href="#L"/></g><g id="k28_2" transform="translate(136 1466)"><ellipse/><use href="#L"/></g><g id="k28_3" transform="translate(188 1466)"><ellipse/><use href="#L"/></g><g id="k28_4" class="d" transform="translate(240 1466)"><ellipse/><use href="#L"/></g><g id="k28_5" class="d" transform="translate(292 1466)"><ellipse/><use href="#L"/></g><g id="k28_6" transform="translate(344 1466)"><ellipse/><use href="#L"/></g><g id="k28_7" transform="translate(396 1466)"><ellipse/><use href="#L"/></g><g id="k28_8" transform="translate(448 1466)"><ellipse/><use href="#L"/></g><g id="k28_9" transform="translate(500 1466)"><ellipse/><use href="#L"/></g><g id="k28_10" transform="translate(552 1466)"><ellipse/><use href="#L"/></g>
<g id="k29_1" transform="translate(84 1518)"><ellipse/><use href="#R"/></g><g id="k29_2" transform="translate(136 1518)"><ellipse/><use href="#R"/></g><g id="k29_3" class="d" transform="translate(188 1518)"><ellipse/><use href="#R"/></g><g id="k29_4" class="d" transform="translate(240 1518)"><ellipse/><use href="#R"/></g><g id="k29_5" transform="translate(292 1518)"><ellipse/><use href="#R"/></g><g id="k29_6" transform="translate(344 1518)"><ellipse/><use href="#R"/></g><g id="k29_7" transform="translate(396 1518)"><ellipse/><use href="#R"/></g><g id="k29_8" transform="translate(448 1518)"><ellipse/><use href="#R"/></g><g id="k29_9" transform="translate(500 1518)"><ellipse/><use href="#R"/></g><g id="k29_10" transform="translate(552 1518)"><ellipse/><use href="#R"/></g>
<g id="k30_1" transform="translate(84 1570)"><ellipse/><use href="#L"/></g><g id="k30_2" class="d" transform="translate(136 1570)"><ellipse/><use href="#L"/></g><g id="k30_3" class="d" transform="translate(188 1570)"><ellipse/><use href="#L"/></g><g id="k30_4" transform="translate(240 1570)"><ellipse/><use href="#L"/></g><g id="k30_5" transform="translate(292 1570)"><ellipse/><use href="#L"/></g><g id="k30_6" class="d" transform="translate(344 1570)"><ellipse/><use href="#L"/></g><g id="k30_7" class="d" transform="translate(396 1570)"><ellipse/><use href="#L"/></g><g id="k30_8" transform="translate(448 1570)"><ellipse/><use href="#L"/></g><g id="k30_9" transform="translate(500 1570)"><ellipse/><use href="#L"/></g><g id="k30_10" transform="translate(552 1570)"><ellipse/><use href="#L"/></g>
<g id="k31_1" transform="translate(84 1622)"><ellipse/><use href="#R"/></g><g id="k31_2" class="d" transform="translate(136 1622)"><ellipse/><use href="#R"/></g><g id="k31_3" transform="translate(188 1622)"><ellipse/><use href="#R"/></g><g id="k31_4" transform="translate(240 1622)"><ellipse/><use href="#R"/></g><g id="k31_5" class="d" transform="translate(292 1622)"><ellipse/><use href="#R"/></g><g id="k31_6" transform="translate(344 1622)"><ellipse/><use href="#R"/></g><g id="k31_7" transform="translate(396 1622)"><ellipse/><use href="#R"/></g><g id="k31_8" class="d" transform="translate(448 1622)"><ellipse/><use href="#R"/></g><g id="k31_9" transform="translate(500 1622)"><ellipse/><use href="#R"/></g><g id="k31_10" transform="translate(552 1622)"><ellipse/><use href="#R"/></g>
<g id="k32_1" transform="translate(84 1674)"><ellipse/><use href="#L"/></g><g id="k32_2" transform="translate(136 1674)"><ellipse/><use href="#L"/></g><g id="k32_3" transform="translate(188 1674)"><ellipse/><use href="#L"/></g><g id="k32_4" class="d" transform="translate(240 1674)"><ellipse/><use href="#L"/></g><g id="k32_5" transform="translate(292 1674)"><ellipse/><use href="#L"/></g><g id="k32_6" transform="translate(344 1674)"><ellipse/><use href="#L"/></g><g id="k32_7" class="d" transform="translate(396 1674)"><ellipse/><use href="#L"/></g><g id="k32_8" transform="translate(448 1674)"><ellipse/><use href="#L"/></g><g id="k32_9" transform="translate(500 1674)"><ellipse/><use href="#L"/></g><g id="k32_10" transform="translate(552 1674)"><ellipse/><use href="#L"/></g>
<g id="k33_1" transform="translate(84 1726)"><ellipse/><use href="#R"/></g><g id="k33_2" transform="translate(136 1726)"><ellipse/><use href="#R"/></g><g id="k33_3" class="d" transform="translate(188 1726)"><ellipse/><use href="#R"/></g><g id="k33_4" transform="translate(240 1726)"><ellipse/><use href="#R"/></g><g id="k33_5" transform="translate(292 1726)"><ellipse/><use href="#R"/></g><g id="k33_6" class="d" transform="translate(344 1726)"><ellipse/><use href="#R"/></g><g id="k33_7" transform="translate(396 1726)"><ellipse/><use href="#R"/></g><g id="k33_8" transform="translate(448 1726)"><ellipse/><use href="#R"/></g><g id="k33_9" transform="translate(500 1726)"><ellipse/><use href="#R"/></g><g id="k33_10" transform="translate(552 1726)"><ellipse/><use href="#R"/></g>
<g id="k34_1" transform="translate(84 1778)"><ellipse/><use href="#L"/></g><g id="k34_2" transform="translate(136 1778)"><ellipse/><use href="#L"/></g><g id="k34_3" transform="translate(188 1778)"><ellipse/><use href="#L"/></g><g id="k34_4" class="d" transform="translate(240 1778)"><ellipse/><use href="#L"/></g><g id="k34_5" transform="translate(292 1778)"><ellipse/><use href="#L"/></g><g id="k34_6" transform="translate(344 1778)"><ellipse/><use href="#L"/></g><g id="k34_7" class="d" transform="translate(396 1778)"><ellipse/><use href="#L"/></g><g id="k34_8" transform="translate(448 1778)"><ellipse/><use href="#L"/></g><g id="k34_9" transform="translate(500 1778)"><ellipse/><use href="#L"/></g><g id="k34_10" transform="translate(552 1778)"><ellipse/><use href="#L"/></g>
<g id="k35_1" transform="translate(84 1830)"><ellipse/><use href="#R"/></g><g id="k35_2" class="d" transform="translate(136 1830)"><ellipse/><use href="#R"/></g><g id="k35_3" transform="translate(188 1830)"><ellipse/><use href="#R"/></g><g id="k35_4" transform="translate(240 1830)"><ellipse/><use href="#R"/></g><g id="k35_5" class="d" transform="translate(292 1830)"><ellipse/><use href="#R"/></g><g id="k35_6" transform="translate(344 1830)"><ellipse/><use href="#R"/></g><g id="k35_7" transform="translate(396 1830)"><ellipse/><use href="#R"/></g><g id="k35_8" class="d" transform="translate(448 1830)"><ellipse/><use href="#R"/></g><g id="k35_9" transform="translate(500 1830)"><ellipse/><use href="#R"/></g><g id="k35_10" transform="translate(552 1830)"><ellipse/><use href="#R"/></g>
<g id="k36_1" transform="translate(84 1882)"><ellipse/><use href="#L"/></g><g id="k36_2" class="d" transform="translate(136 1882)"><ellipse/><use href="#L"/></g><g id="k36_3" class="d" transform="translate(188 1882)"><ellipse/><use href="#L"/></g><g id="k36_4" transform="translate(240 1882)"><ellipse/><use href="#L"/></g><g id="k36_5" transform="translate(292 1882)"><ellipse/><use href="#L"/></g><g id="k36_6" class="d" transform="translate(344 1882)"><ellipse/><use href="#L"/></g><g id="k36_7" class="d" transform="translate(396 1882)"><ellipse/><use href="#L"/></g><g id="k36_8" transform="translate(448 1882)"><ellipse/><use href="#L"/></g><g id="k36_9" transform="translate(500 1882)"><ellipse/><use href="#L"/></g><g id="k36_10" transform="translate(552 1882)"><ellipse/><use href="#L"/></g>
<g id="k37_1" transform="translate(84 1934)"><ellipse/><use href="#R"/></g><g id="k37_2" transform="translate(136 1934)"><ellipse/><use href="#R"/></g><g id="k37_3" class="d" transform="translate(188 1934)"><ellipse/><use href="#R"/></g><g id="k37_4" class="d" transform="translate(240 1934)"><ellipse/><use href="#R"/></g><g id="k37_5" transform="translate(292 1934)"><ellipse/><use href="#R"/></g><g id="k37_6" transform="translate(344 1934)"><ellipse/><use href="#R"/></g><g id="k37_7" transform="translate(396 1934)"><ellipse/><use href="#R"/></g><g id="k37_8" transform="translate(448 1934)"><ellipse/><use href="#R"/></g><g id="k37_9" transform="translate(500 1934)"><ellipse/><use href="#R"/></g><g id="k37_10" transform="translate(552 1934)"><ellipse/><use href="#R"/></g>
<g id="k38_1" transform="translate(84 1986)"><ellipse/><use href="#L"/></g><g id="k38_2" transform="translate(136 1986)"><ellipse/><use href="#L"/></g><g id="k38_3" transform="translate(188 1986)"><ellipse/><use href="#L"/></g><g id="k38_4" class="d" transform="translate(240 1986)"><ellipse/><use href="#L"/></g><g id="k38_5" class="d" transform="translate(292 1986)"><ellipse/><use href="#L"/></g><g id="k38_6" transform="translate(344 1986)"><ellipse/><use href="#L"/></g><g id="k38_7" transform="translate(396 1986)"><ellipse/><use href="#L"/></g><g id="k38_8" transform="translate(448 1986)"><ellipse/><use href="#L"/></g><g id="k38_9" transform="translate(500 1986)"><ellipse/><use href="#L"/></g><g id="k38_10" transform="translate(552 1986)"><ellipse/><use href="#L"/></g>
<g id="k39_1" transform="translate(84 2038)"><ellipse/><use href="#R"/></g><g id="k39_2" transform="translate(136 2038)"><ellipse/><use href="#R"/></g><g id="k39_3" transform="translate(188 2038)"><ellipse/><use href="#R"/></g><g id="k39_4" transform="translate(240 2038)"><ellipse/><use href="#R"/></g><g id="k39_5" class="d" transform="translate(292 2038)"><ellipse/><use href="#R"/></g><g id="k39_6" class="d" transform="translate(344 2038)"><ellipse/><use href="#R"/></g><g id="k39_7" transform="translate(396 2038)"><ellipse/><use href="#R"/></g><g id="k39_8" transform="translate(448 2038)"><ellipse/><use href="#R"/></g><g id="k39_9" transform="translate(500 2038)"><ellipse/><use href="#R"/></g><g id="k39_10" transform="translate(552 2038)"><ellipse/><use href="#R"/></g>
<g id="k40_1" transform="translate(84 2090)"><ellipse/><use href="#L"/></g><g id="k40_2" transform="translate(136 2090)"><ellipse/><use href="#L"/></g><g id="k40_3" transform="translate(188 2090)"><ellipse/><use href="#L"/></g><g id="k40_4" transform="translate(240 2090)"><ellipse/><use href="#L"/></g><g id="k40_5" class="d" transform="translate(292 2090)"><ellipse/><use href="#L"/></g><g id="k40_6" transform="translate(344 2090)"><ellipse/><use href="#L"/></g><g id="k40_7" class="d" transform="translate(396 2090)"><ellipse/><use href="#L"/></g><g id="k40_8" transform="translate(448 2090)"><ellipse/><use href="#L"/></g><g id="k40_9" transform="translate(500 2090)"><ellipse/><use href="#L"/></g><g id="k40_10" transform="translate(552 2090)"><ellipse/><use href="#L"/></g>
<g id="k41_1" transform="translate(84 2142)"><ellipse/><use href="#R"/></g><g id="k41_2" transform="translate(136 2142)"><ellipse/><use href="#R"/></g><g id="k41_3" class="d" transform="translate(188 2142)"><ellipse/><use href="#R"/></g><g id="k41_4" transform="translate(240 2142)"><ellipse/><use href="#R"/></g><g id="k41_5" transform="translate(292 2142)"><ellipse/><use href="#R"/></g><g id="k41_6" class="d" transform="translate(344 2142)"><ellipse/><use href="#R"/></g><g id="k41_7" transform="translate(396 2142)"><ellipse/><use href="#R"/></g><g id="k41_8" class="d" transform="translate(448 2142)"><ellipse/><use href="#R"/></g><g id="k41_9" transform="translate(500 2142)"><ellipse/><use href="#R"/></g><g id="k41_10" transform="translate(552 2142)"><ellipse/><use href="#R"/></g>
<g id="k42_1" transform="translate(84 2194)"><ellipse/><use href="#L"/></g><g id="k42_2" class="d" transform="translate(136 2194)"><ellipse/><use href="#L"/></g><g id="k42_3" transform="translate(188 2194)"><ellipse/><use href="#L"/></g><g id="k42_4" transform="translate(240 2194)"><ellipse/><use href="#L"/></g><g id="k42_5" transform="translate(292 2194)"><ellipse/><use href="#L"/></g><g id="k42_6" class="d" transform="translate(344 2194)"><ellipse/><use href="#L"/></g><g id="k42_7" transform="translate(396 2194)"><ellipse/><use href="#L"/></g><g id="k42_8" class="d" transform="translate(448 2194)"><ellipse/><use href="#L"/></g><g id="k42_9" transform="translate(500 2194)"><ellipse/><use href="#L"/></g><g id="k42_10" transform="translate(552 2194)"><ellipse/><use href="#L"/></g>
<g id="k43_1" transform="translate(84 2246)"><ellipse/><use href="#R"/></g><g id="k43_2" class="d" transform="translate(136 2246)"><ellipse/><use href="#R"/></g><g id="k43_3" transform="translate(188 2246)"><ellipse/><use href="#R"/></g><g id="k43_4" transform="translate(240 2246)"><ellipse/><use href="#R"/></g><g id="k43_5" class="d" transform="translate(292 2246)"><ellipse/><use href="#R"/></g><g id="k43_6" transform="translate(344 2246)"><ellipse/><use href="#R"/></g><g id="k43_7" transform="translate(396 2246)"><ellipse/><use href="#R"/></g><g id="k43_8" class="d" transform="translate(448 2246)"><ellipse/><use href="#R"/></g><g id="k43_9" transform="translate(500 2246)"><ellipse/><use href="#R"/></g><g id="k43_10" transform="translate(552 2246)"><ellipse/><use href="#R"/></g>
<g id="k44_1" transform="translate(84 2298)"><ellipse/><use href="#L"/></g><g id="k44_2" transform="translate(136 2298)"><ellipse/><use href="#L"/></g><g id="k44_3" class="d" transform="translate(188 2298)"><ellipse/><use href="#L"/></g><g id="k44_4" class="d" transform="translate(240 2298)"><ellipse/><use href="#L"/></g><g id="k44_5" transform="translate(292 2298)"><ellipse/><use href="#L"/></g><g id="k44_6" transform="translate(344 2298)"><ellipse/><use href="#L"/></g><g id="k44_7" transform="translate(396 2298)"><ellipse/><use href="#L"/></g><g id="k44_8" transform="translate(448 2298)"><ellipse/><use href="#L"/></g><g id="k44_9" class="d" transform="translate(500 2298)"><ellipse/><use href="#L"/></g><g id="k44_10" transform="translate(552 2298)"><ellipse/><use href="#L"/></g>
<g id="k45_1" transform="translate(84 2350)"><ellipse/><use href="#R"/></g><g id="k45_2" transform="translate(136 2350)"><ellipse/><use href="#R"/></g><g id="k45_3" transform="translate(188 2350)"><ellipse/><use href="#R"/></g><g id="k45_4" transform="translate(240 2350)"><ellipse/><use href="#R"/></g><g id="k45_5" transform="translate(292 2350)"><ellipse/><use href="#R"/></g><g id="k45_6" transform="translate(344 2350)"><ellipse/><use href="#R"/></g><g id="k45_7" transform="translate(396 2350)"><ellipse/><use href="#R"/></g><g id="k45_8" transform="translate(448 2350)"><ellipse/><use href="#R"/></g><g id="k45_9" class="d" transform="translate(500 2350)"><ellipse/><use href="#R"/></g><g id="k45_10" transform="translate(552 2350)"><ellipse/><use href="#R"/></g>
<g id="k46_1" transform="translate(84 2402)"><ellipse/><use href="#L"/></g><g id="k46_2" transform="translate(136 2402)"><ellipse/><use href="#L"/></g><g id="k46_3" class="d" transform="translate(188 2402)"><ellipse/><use href="#L"/></g><g id="k46_4" class="d" transform="translate(240 2402)"><ellipse/><use href="#L"/></g><g id="k46_5" class="d" transform="translate(292 2402)"><ellipse/><use href="#L"/></g><g id="k46_6" transform="translate(344 2402)"><ellipse/><use href="#L"/></g><g id="k46_7" transform="translate(396 2402)"><ellipse/><use href="#L"/></g><g id="k46_8" transform="translate(448 2402)"><ellipse/><use href="#L"/></g><g id="k46_9" class="d" transform="translate(500 2402)"><ellipse/><use href="#L"/></g><g id="k46_10" transform="translate(552 2402)"><ellipse/><use href="#L"/></g>
<g id="k47_1" transform="translate(84 2454)"><ellipse/><use href="#R"/></g><g id="k47_2" class="d" transform="translate(136 2454)"><ellipse/><use href="#R"/></g><g id="k47_3" transform="translate(188 2454)"><ellipse/><use href="#R"/></g><g id="k47_4" transform="translate(240 2454)"><ellipse/><use href="#R"/></g><g id="k47_5" transform="translate(292 2454)"><ellipse/><use href="#R"/></g><g id="k47_6" class="d" transform="translate(344 2454)"><ellipse/><use href="#R"/></g><g id="k47_7" transform="translate(396 2454)"><ellipse/><use href="#R"/></g><g id="k47_8" transform="translate(448 2454)"><ellipse/><use href="#R"/></g><g id="k47_9" class="d" transform="translate(500 2454)"><ellipse/><use href="#R"/></g><g id="k47_10" transform="translate(552 2454)"><ellipse/><use href="#R"/></g>
<g id="k48_1" transform="translate(84 2506)"><ellipse/><use href="#L"/></g><g id="k48_2" class="d" transform="translate(136 2506)"><ellipse/><use href="#L"/></g><g id="k48_3" transform="translate(188 2506)"><ellipse/><use href="#L"/></g><g id="k48_4" class="d" transform="translate(240 2506)"><ellipse/><use href="#L"/></g><g id="k48_5" transform="translate(292 2506)"><ellipse/><use href="#L"/></g><g id="k48_6" class="d" transform="translate(344 2506)"><ellipse/><use href="#L"/></g><g id="k48_7" transform="translate(396 2506)"><ellipse/><use href="#L"/></g><g id="k48_8" transform="translate(448 2506)"><ellipse/><use href="#L"/></g><g id="k48_9" class="d" transform="translate(500 2506)"><ellipse/><use href="#L"/></g><g id="k48_10" transform="translate(552 2506)"><ellipse/><use href="#L"/></g>
<g id="k49_1" transform="translate(84 2558)"><ellipse/><use href="#R"/></g><g id="k49_2" class="d" transform="translate(136 2558)"><ellipse/><use href="#R"/></g><g id="k49_3" transform="translate(188 2558)"><ellipse/><use href="#R"/></g><g id="k49_4" transform="translate(240 2558)"><ellipse/><use href="#R"/></g><g id="k49_5" class="d" transform="translate(292 2558)"><ellipse/><use href="#R"/></g><g id="k49_6" transform="translate(344 2558)"><ellipse/><use href="#R"/></g><g id="k49_7" transform="translate(396 2558)"><ellipse/><use href="#R"/></g><g id="k49_8" class="d" transform="translate(448 2558)"><ellipse/><use href="#R"/></g><g id="k49_9" transform="translate(500 2558)"><ellipse/><use href="#R"/></g><g id="k49_10" transform="translate(552 2558)"><ellipse/><use href="#R"/></g>
<g id="k50_1" transform="translate(84 2610)"><ellipse/><use href="#L"/></g><g id="k50_2" class="d" transform="translate(136 2610)"><ellipse/><use href="#L"/></g><g id="k50_3" transform="translate(188 2610)"><ellipse/><use href="#L"/></g><g id="k50_4" transform="translate(240 2610)"><ellipse/><use href="#L"/></g><g id="k50_5" transform="translate(292 2610)"><ellipse/><use href="#L"/></g><g id="k50_6" transform="translate(344 2610)"><ellipse/><use href="#L"/></g><g id="k50_7" transform="translate(396 2610)"><ellipse/><use href="#L"/></g><g id="k50_8" class="d" transform="translate(448 2610)"><ellipse/><use href="#L"/></g><g id="k50_9" transform="translate(500 2610)"><ellipse/><use href="#L"/></g><g id="k50_10" transform="translate(552 2610)"><ellipse/><use href="#L"/></g>
<g id="k51_1" transform="translate(84 2662)"><ellipse/><use href="#R"/></g><g id="k51_2" transform="translate(136 2662)"><ellipse/><use href="#R"/></g><g id="k51_3" class="d" transform="translate(188 2662)"><ellipse/><use href="#R"/></g><g id="k51_4" transform="translate(240 2662)"><ellipse/><use href="#R"/></g><g id="k51_5" transform="translate(292 2662)"><ellipse/><use href="#R"/></g><g id="k51_6" transform="translate(344 2662)"><ellipse/><use href="#R"/></g><g id="k51_7" class="d" transform="translate(396 2662)"><ellipse/><use href="#R"/></g><g id="k51_8" transform="translate(448 2662)"><ellipse/><use href="#R"/></g><g id="k51_9" transform="translate(500 2662)"><ellipse/><use href="#R"/></g><g id="k51_10" transform="translate(552 2662)"><ellipse/><use href="#R"/></g>
<g id="k52_1" transform="translate(84 2714)"><ellipse/><use href="#L"/></g><g id="k52_2" transform="translate(136 2714)"><ellipse/><use href="#L"/></g><g id="k52_3" transform="translate(188 2714)"><ellipse/><use href="#L"/></g><g id="k52_4" class="d" transform="translate(240 2714)"><ellipse/><use href="#L"/></g><g id="k52_5" class="d" transform="translate(292 2714)"><ellipse/><use href="#L"/></g><g id="k52_6" class="d" transform="translate(344 2714)"><ellipse/><use href="#L"/></g><g id="k52_7" transform="translate(396 2714)"><ellipse/><use href="#L"/></g><g id="k52_8" transform="translate(448 2714)"><ellipse/><use href="#L"/></g><g id="k52_9" transform="translate(500 2714)"><ellipse/><use href="#L"/></g><g id="k52_10" transform="translate(552 2714)"><ellipse/><use href="#L"/></g>
<g id="k53_1" transform="translate(84 2766)"><ellipse/><use href="#R"/></g><g id="k53_2" transform="translate(136 2766)"><ellipse/><use href="#R"/></g><g id="k53_3" transform="translate(188 2766)"><ellipse/><use href="#R"/></g><g id="k53_4" transform="translate(240 2766)"><ellipse/><use href="#R"/></g><g id="k53_5" class="d" transform="translate(292 2766)"><ellipse/><use href="#R"/></g><g id="k53_6" class="d" transform="translate(344 2766)"><ellipse/><use href="#R"/></g><g id="k53_7" class="d" transform="translate(396 2766)"><ellipse/><use href="#R"/></g><g id="k53_8" transform="translate(448 2766)"><ellipse/><use href="#R"/></g><g id="k53_9" transform="translate(500 2766)"><ellipse/><use href="#R"/></g><g id="k53_10" transform="translate(552 2766)"><ellipse/><use href="#R"/></g>
<g id="k54_1" transform="translate(84 2818)"><ellipse/><use href="#L"/></g><g id="k54_2" transform="translate(136 2818)"><ellipse/><use href="#L"/></g><g id="k54_3" transform="translate(188 2818)"><ellipse/><use href="#L"/></g><g id="k54_4" class="d" transform="translate(240 2818)"><ellipse/><use href="#L"/></g><g id="k54_5" transform="translate(292 2818)"><ellipse/><use href="#L"/></g><g id="k54_6" transform="translate(344 2818)"><ellipse/><use href="#L"/></g><g id="k54_7" transform="translate(396 2818)"><ellipse/><use href="#L"/></g><g id="k54_8" class="d" transform="translate(448 2818)"><ellipse/><use href="#L"/></g><g id="k54_9" transform="translate(500 2818)"><ellipse/><use href="#L"/></g><g id="k54_10" transform="translate(552 2818)"><ellipse/><use href="#L"/></g>
<g id="k55_1" transform="translate(84 2870)"><ellipse/><use href="#R"/></g><g id="k55_2" transform="translate(136 2870)"><ellipse/><use href="#R"/></g><g id="k55_3" class="d" transform="translate(188 2870)"><ellipse/><use href="#R"/></g><g id="k55_4" transform="translate(240 2870)"><ellipse/><use href="#R"/></g><g id="k55_5" transform="translate(292 2870)"><ellipse/><use href="#R"/></g><g id="k55_6" transform="translate(344 2870)"><ellipse/><use href="#R"/></g><g id="k55_7" transform="translate(396 2870)"><ellipse/><use href="#R"/></g><g id="k55_8" transform="translate(448 2870)"><ellipse/><use href="#R"/></g><g id="k55_9" class="d" transform="translate(500 2870)"><ellipse/><use href="#R"/></g><g id="k55_10" transform="translate(552 2870)"><ellipse/><use href="#R"/></g>
<g id="k56_1" transform="translate(84 2922)"><ellipse/><use href="#L"/></g><g id="k56_2" transform="translate(136 2922)"><ellipse/><use href="#L"/></g><g id="k56_3" class="d" transform="translate(188 2922)"><ellipse/><use href="#L"/></g><g id="k56_4" transform="translate(240 2922)"><ellipse/><use href="#L"/></g><g id="k56_5" transform="translate(292 2922)"><ellipse/><use href="#L"/></g><g id="k56_6" class="d" transform="translate(344 2922)"><ellipse/><use href="#L"/></g><g id="k56_7" transform="translate(396 2922)"><ellipse/><use href="#L"/></g><g id="k56_8" transform="translate(448 2922)"><ellipse/><use href="#L"/></g><g id="k56_9" class="d" transform="translate(500 2922)"><ellipse/><use href="#L"/></g><g id="k56_10" transform="translate(552 2922)"><ellipse/><use href="#L"/></g>
<g id="k57_1" transform="translate(84 2974)"><ellipse/><use href="#R"/></g><g id="k57_2" class="d" transform="translate(136 2974)"><ellipse/><use href="#R"/></g><g id="k57_3" transform="translate(188 2974)"><ellipse/><use href="#R"/></g><g id="k57_4" transform="translate(240 2974)"><ellipse/><use href="#R"/></g><g id="k57_5" transform="translate(292 2974)"><ellipse/><use href="#R"/></g><g id="k57_6" transform="translate(344 2974)"><ellipse/><use href="#R"/></g><g id="k57_7" class="d" transform="translate(396 2974)"><ellipse/><use href="#R"/></g><g id="k57_8" class="d" transform="translate(448 2974)"><ellipse/><use href="#R"/></g><g id="k57_9" transform="translate(500 2974)"><ellipse/><use href="#R"/></g><g id="k57_10" transform="translate(552 2974)"><ellipse/><use href="#R"/></g>
<g id="k58_1" transform="translate(84 3026)"><ellipse/><use href="#L"/></g><g id="k58_2" class="d" transform="translate(136 3026)"><ellipse/><use href="#L"/></g><g id="k58_3" transform="translate(188 3026)"><ellipse/><use href="#L"/></g><g id="k58_4" transform="translate(240 3026)"><ellipse/><use href="#L"/></g><g id="k58_5" transform="translate(292 3026)"><ellipse/><use href="#L"/></g><g id="k58_6" transform="translate(344 3026)"><ellipse/><use href="#L"/></g><g id="k58_7" transform="translate(396 3026)"><ellipse/><use href="#L"/></g><g id="k58_8" transform="translate(448 3026)"><ellipse/><use href="#L"/></g><g id="k58_9" transform="translate(500 3026)"><ellipse/><use href="#L"/></g><g id="k58_10" transform="translate(552 3026)"><ellipse/><use href="#L"/></g>
<g id="k59_1" transform="translate(84 3078)"><ellipse/><use href="#R"/></g><g id="k59_2" class="d" transform="translate(136 3078)"><ellipse/><use href="#R"/></g><g id="k59_3" transform="translate(188 3078)"><ellipse/><use href="#R"/></g><g id="k59_4" transform="translate(240 3078)"><ellipse/><use href="#R"/></g><g id="k59_5" transform="translate(292 3078)"><ellipse/><use href="#R"/></g><g id="k59_6" class="d" transform="translate(344 3078)"><ellipse/><use href="#R"/></g><g id="k59_7" class="d" transform="translate(396 3078)"><ellipse/><use href="#R"/></g><g id="k59_8" class="d" transform="translate(448 3078)"><ellipse/><use href="#R"/></g><g id="k59_9" transform="translate(500 3078)"><ellipse/><use href="#R"/></g><g id="k59_10" transform="translate(552 3078)"><ellipse/><use href="#R"/></g>
<g id="k60_1" transform="translate(84 3130)"><ellipse/><use href="#L"/></g><g id="k60_2" class="d" transform="translate(136 3130)"><ellipse/><use href="#L"/></g><g id="k60_3" transform="translate(188 3130)"><ellipse/><use href="#L"/></g><g id="k60_4" transform="translate(240 3130)"><ellipse/><use href="#L"/></g><g id="k60_5" class="d" transform="translate(292 3130)"><ellipse/><use href="#L"/></g><g id="k60_6" transform="translate(344 3130)"><ellipse/><use href="#L"/></g><g id="k60_7" transform="translate(396 3130)"><ellipse/><use href="#L"/></g><g id="k60_8" transform="translate(448 3130)"><ellipse/><use href="#L"/></g><g id="k60_9" class="d" transform="translate(500 3130)"><ellipse/><use href="#L"/></g><g id="k60_10" transform="translate(552 3130)"><ellipse/><use href="#L"/></g>
<g id="k61_1" transform="translate(84 3182)"><ellipse/><use href="#R"/></g><g id="k61_2" class="d" transform="translate(136 3182)"><ellipse/><use href="#R"/></g><g id="k61_3" transform="translate(188 3182)"><ellipse/><use href="#R"/></g><g id="k61_4" transform="translate(240 3182)"><ellipse/><use href="#R"/></g><g id="k61_5" class="d" transform="translate(292 3182)"><ellipse/><use href="#R"/></g><g id="k61_6" transform="translate(344 3182)"><ellipse/><use href="#R"/></g><g id="k61_7" class="d" transform="translate(396 3182)"><ellipse/><use href="#R"/></g><g id="k61_8" transform="translate(448 3182)"><ellipse/><use href="#R"/></g><g id="k61_9" class="d" transform="translate(500 3182)"><ellipse/><use href="#R"/></g><g id="k61_10" transform="translate(552 3182)"><ellipse/><use href="#R"/></g>
<g id="k62_1" transform="translate(84 3234)"><ellipse/><use href="#L"/></g><g id="k62_2" class="d" transform="translate(136 3234)"><ellipse/><use href="#L"/></g><g id="k62_3" transform="translate(188 3234)"><ellipse/><use href="#L"/></g><g id="k62_4" transform="translate(240 3234)"><ellipse/><use href="#L"/></g><g id="k62_5" transform="translate(292 3234)"><ellipse/><use href="#L"/></g><g id="k62_6" class="d" transform="translate(344 3234)"><ellipse/><use href="#L"/></g><g id="k62_7" transform="translate(396 3234)"><ellipse/><use href="#L"/></g><g id="k62_8" transform="translate(448 3234)"><ellipse/><use href="#L"/></g><g id="k62_9" class="d" transform="translate(500 3234)"><ellipse/><use href="#L"/></g><g id="k62_10" transform="translate(552 3234)"><ellipse/><use href="#L"/></g>
<g id="k63_1" transform="translate(84 3286)"><ellipse/><use href="#R"/></g><g id="k63_2" transform="translate(136 3286)"><ellipse/><use href="#R"/></g><g id="k63_3" class="d" transform="translate(188 3286)"><ellipse/><use href="#R"/></g><g id="k63_4" transform="translate(240 3286)"><ellipse/><use href="#R"/></g><g id="k63_5" transform="translate(292 3286)"><ellipse/><use href="#R"/></g><g id="k63_6" transform="translate(344 3286)"><ellipse/><use href="#R"/></g><g id="k63_7" transform="translate(396 3286)"><ellipse/><use href="#R"/></g><g id="k63_8" class="d" transform="translate(448 3286)"><ellipse/><use href="#R"/></g><g id="k63_9" transform="translate(500 3286)"><ellipse/><use href="#R"/></g><g id="k63_10" transform="translate(552 3286)"><ellipse/><use href="#R"/></g>
<g id="k64_1" transform="translate(84 3338)"><ellipse/><use href="#L"/></g><g id="k64_2" transform="translate(136 3338)"><ellipse/><use href="#L"/></g><g id="k64_3" transform="translate(188 3338)"><ellipse/><use href="#L"/></g><g id="k64_4" class="d" transform="translate(240 3338)"><ellipse/><use href="#L"/></g><g id="k64_5" class="d" transform="translate(292 3338)"><ellipse/><use href="#L"/></g><g id="k64_6" class="d" transform="translate(344 3338)"><ellipse/><use href="#L"/></g><g id="k64_7" class="d" transform="translate(396 3338)"><ellipse/><use href="#L"/></g><g id="k64_8" transform="translate(448 3338)"><ellipse/><use href="#L"/></g><g id="k64_9" transform="translate(500 3338)"><ellipse/><use href="#L"/></g><g id="k64_10" transform="translate(552 3338)"><ellipse/><use href="#L"/></g>
<g id="k65_1" transform="translate(84 3390)"><ellipse/><use href="#R"/></g><g id="k65_2" transform="translate(136 3390)"><ellipse/><use href="#R"/></g><g id="k65_3" transform="translate(188 3390)"><ellipse/><use href="#R"/></g><g id="k65_4" transform="translate(240 3390)"><ellipse/><use href="#R"/></g><g id="k65_5" transform="translate(292 3390)"><ellipse/><use href="#R"/></g><g id="k65_6" transform="translate(344 3390)"><ellipse/><use href="#R"/></g><g id="k65_7" transform="translate(396 3390)"><ellipse/><use href="#R"/></g><g id="k65_8" transform="translate(448 3390)"><ellipse/><use href="#R"/></g><g id="k65_9" transform="translate(500 3390)"><ellipse/><use href="#R"/></g><g id="k65_10" transform="translate(552 3390)"><ellipse/><use href="#R"/></g>
</g>
<g id="connectors" mask="url(#cut)">
<g class="bo">
<path d="M240 114L188 166"/><path d="M448 166L500 218"/><path d="M136 218L136 270"/><path d="M500 270L500 322"/><path d="M136 322L136 374"/><path d="M448 374L136 426"/><path d="M136 426L136 478"/><path d="M448 478L500 530"/><path d="M188 530L188 582"/><path d="M500 582L448 634"/><path d="M240 634L292 686"/><path d="M396 686L344 738"/><path d="M240 738L188 790"/><path d="M396 790L448 842"/><path d="M136 842L136 894"/><path d="M448 894L500 946"/><path d="M136 946L136 998"/><path d="M500 998L500 1050"/><path d="M188 1050L500 1102"/><path d="M500 1102L500 1154"/><path d="M188 1154L136 1206"/><path d="M448 1206L448 1258"/><path d="M136 1258L188 1310"/><path d="M448 1310L396 1362"/><path d="M292 1362L292 1414"/><path d="M344 1414L292 1466"/><path d="M240 1466L188 1518"/><path d="M240 1518L396 1570"/><path d="M136 1570L136 1622"/><path d="M448 1622L396 1674"/><path d="M240 1674L188 1726"/><path d="M344 1726L396 1778"/><path d="M240 1778L136 1830"/><path d="M448 1830L396 1882"/><path d="M136 1882L188 1934"/><path d="M240 1934L292 1986"/><path d="M240 1986L292 2038"/><path d="M344 2038L396 2090"/><path d="M292 2090L188 2142"/><path d="M448 2142L448 2194"/><path d="M136 2194L136 2246"/><path d="M448 2246L500 2298"/><path d="M188 2298L500 2350"/><path d="M500 2350L500 2402"/><path d="M188 2402L136 2454"/><path d="M500 2454L500 2506"/><path d="M136 2506L136 2558"/><path d="M448 2558L448 2610"/><path d="M136 2610L188 2662"/><path d="M396 2662L344 2714"/><path d="M240 2714L292 2766"/><path d="M396 2766L448 2818"/><path d="M240 2818L188 2870"/><path d="M500 2870L500 2922"/><path d="M188 2922L136 2974"/><path d="M448 2974L136 3026"/><path d="M136 3026L136 3078"/><path d="M448 3078L500 3130"/><path d="M136 3130L136 3182"/><path d="M500 3182L500 3234"/><path d="M136 3234L188 3286"/><path d="M448 3286L396 3338"/>
</g>
<g class="bi">
<path d="M240 114L188 166"/><path d="M448 166L500 218"/><path d="M136 218L136 270"/><path d="M500 270L500 322"/><path d="M136 322L136 374"/><path d="M448 374L136 426"/><path d="M136 426L136 478"/><path d="M448 478L500 530"/><path d="M188 530L188 582"/><path d="M500 582L448 634"/><path d="M240 634L292 686"/><path d="M396 686L344 738"/><path d="M240 738L188 790"/><path d="M396 790L448 842"/><path d="M136 842L136 894"/><path d="M448 894L500 946"/><path d="M136 946L136 998"/><path d="M500 998L500 1050"/><path d="M188 1050L500 1102"/><path d="M500 1102L500 1154"/><path d="M188 1154L136 1206"/><path d="M448 1206L448 1258"/><path d="M136 1258L188 1310"/><path d="M448 1310L396 1362"/><path d="M292 1362L292 1414"/><path d="M344 1414L292 1466"/><path d="M240 1466L188 1518"/><path d="M240 1518L396 1570"/><path d="M136 1570L136 1622"/><path d="M448 1622L396 1674"/><path d="M240 1674L188 1726"/><path d="M344 1726L396 1778"/><path d="M240 1778L136 1830"/><path d="M448 1830L396 1882"/><path d="M136 1882L188 1934"/><path d="M240 1934L292 1986"/><path d="M240 1986L292 2038"/><path d="M344 2038L396 2090"/><path d="M292 2090L188 2142"/><path d="M448 2142L448 2194"/><path d="M136 2194L136 2246"/><path d="M448 2246L500 2298"/><path d="M188 2298L500 2350"/><path d="M500 2350L500 2402"/><path d="M188 2402L136 2454"/><path d="M500 2454L500 2506"/><path d="M136 2506L136 2558"/><path d="M448 2558L448 2610"/><path d="M136 2610L188 2662"/><path d="M396 2662L344 2714"/><path d="M240 2714L292 2766"/><path d="M396 2766L448 2818"/><path d="M240 2818L188 2870"/><path d="M500 2870L500 2922"/><path d="M188 2922L136 2974"/><path d="M448 2974L136 3026"/><path d="M136 3026L136 3078"/><path d="M448 3078L500 3130"/><path d="M136 3130L136 3182"/><path d="M500 3182L500 3234"/><path d="M136 3234L188 3286"/><path d="M448 3286L396 3338"/>
</g>
</g>
<g id="labels">
<path class="ll" d="M26 114h40.5M26 166h40.5M26 218h40.5M26 270h40.5M26 322h40.5M26 374h40.5M26 426h40.5M26 478h40.5M26 530h40.5M26 582h40.5M26 634h40.5M26 686h40.5M26 738h40.5M26 790h40.5M26 842h40.5M26 894h40.5M26 946h40.5M26 998h40.5M26 1050h40.5M26 1102h40.5M26 1154h40.5M26 1206h40.5M26 1258h40.5M26 1310h40.5M26 1362h40.5M26 1414h40.5M26 1466h40.5M26 1518h40.5M26 1570h40.5M26 1622h40.5M26 1674h40.5M26 1726h40.5M26 1778h40.5M26 1830h40.5M26 1882h40.5M26 1934h40.5M26 1986h40.5M26 2038h40.5M26 2090h40.5M26 2142h40.5M26 2194h40.5M26 2246h40.5M26 2298h40.5M26 2350h40.5M26 2402h40.5M26 2454h40.5M26 2506h40.5M26 2558h40.5M26 2610h40.5M26 2662h40.5M26 2714h40.5M26 2766h40.5M26 2818h40.5M26 2870h40.5M26 2922h40.5M26 2974h40.5M26 3026h40.5M26 3078h40.5M26 3130h40.5M26 3182h40.5M26 3234h40.5M26 3286h40.5M26 3390h40.5"/>
<path class="ll" d="M569.5 62H609M569.5 166H609M569.5 218H609M569.5 270H609M569.5 322H609M569.5 374H609M569.5 426H609M569.5 478H609M569.5 530H609M569.5 582H609M569.5 634H609M569.5 686H609M569.5 738H609M569.5 790H609M569.5 842H609M569.5 894H609M569.5 946H609M569.5 998H609M569.5 1050H609M569.5 1102H609M569.5 1154H609M569.5 1206H609M569.5 1258H609M569.5 1310H609M569.5 1362H609M569.5 1414H609M569.5 1466H609M569.5 1518H609M569.5 1570H609M569.5 1622H609M569.5 1674H609M569.5 1726H609M569.5 1778H609M569.5 1830H609M569.5 1882H609M569.5 1934H609M569.5 1986H609M569.5 2038H609M569.5 2090H609M569.5 2142H609M569.5 2194H609M569.5 2246H609M569.5 2298H609M569.5 2350H609M569.5 2402H609M569.5 2454H609M569.5 2506H609M569.5 2558H609M569.5 2610H609M569.5 2662H609M569.5 2714H609M569.5 2766H609M569.5 2818H609M569.5 2870H609M569.5 2922H609M569.5 2974H609M569.5 3026H609M569.5 3078H609M569.5 3130H609M569.5 3182H609M569.5 3234H609M569.5 3286H609M569.5 3338H609"/>
<g class="lab le">
<text x="20.5" y="66">1</text><text x="20.5" y="118">2</text><text x="20.5" y="170">3</text><text x="20.5" y="222">4</text><text x="20.5" y="274">5</text><text x="20.5" y="326">6</text><text x="20.5" y="378">7</text><text x="20.5" y="430">8</text><text x="20.5" y="482">9</text><text x="20.5" y="534">10</text>
<text x="20.5" y="586">11</text><text x="20.5" y="638">12</text><text x="20.5" y="690">13</text><text x="20.5" y="742">14</text><text x="20.5" y="794">15</text><text x="20.5" y="846">16</text><text x="20.5" y="898">17</text><text x="20.5" y="950">18</text><text x="20.5" y="1002">19</text><text x="20.5" y="1054">20</text>
<text x="20.5" y="1106">21</text><text x="20.5" y="1158">22</text><text x="20.5" y="1210">23</text><text x="20.5" y="1262">24</text><text x="20.5" y="1314">25</text><text x="20.5" y="1366">26</text><text x="20.5" y="1418">27</text><text x="20.5" y="1470">28</text><text x="20.5" y="1522">29</text><text x="20.5" y="1574">30</text>
<text x="20.5" y="1626">31</text><text x="20.5" y="1678">32</text><text x="20.5" y="1730">33</text><text x="20.5" y="1782">34</text><text x="20.5" y="1834">35</text><text x="20.5" y="1886">36</text><text x="20.5" y="1938">37</text><text x="20.5" y="1990">38</text><text x="20.5" y="2042">39</text><text x="20.5" y="2094">40</text>
<text x="20.5" y="2146">41</text><text x="20.5" y="2198">42</text><text x="20.5" y="2250">43</text><text x="20.5" y="2302">44</text><text x="20.5" y="2354">45</text><text x="20.5" y="2406">46</text><text x="20.5" y="2458">47</text><text x="20.5" y="2510">48</text><text x="20.5" y="2562">49</text><text x="20.5" y="2614">50</text>
<text x="20.5" y="2666">51</text><text x="20.5" y="2718">52</text><text x="20.5" y="2770">53</text><text x="20.5" y="2822">54</text><text x="20.5" y="2874">55</text><text x="20.5" y="2926">56</text><text x="20.5" y="2978">57</text><text x="20.5" y="3030">58</text><text x="20.5" y="3082">59</text><text x="20.5" y="3134">60</text>
<text x="20.5" y="3186">61</text><text x="20.5" y="3238">62</text><text x="20.5" y="3290">63</text><text x="20.5" y="3342">64</text><text x="20.5" y="3394">65</text>
</g>
<g class="lab">
<text x="615" y="66">1</text><text x="615" y="118">2</text><text x="615" y="170">3</text><text x="615" y="222">4</text><text x="615" y="274">5</text><text x="615" y="326">6</text><text x="615" y="378">7</text><text x="615" y="430">8</text><text x="615" y="482">9</text><text x="615" y="534">10</text>
<text x="615" y="586">11</text><text x="615" y="638">12</text><text x="615" y="690">13</text><text x="615" y="742">14</text><text x="615" y="794">15</text><text x="615" y="846">16</text><text x="615" y="898">17</text><text x="615" y="950">18</text><text x="615" y="1002">19</text><text x="615" y="1054">20</text>
<text x="615" y="1106">21</text><text x="615" y="1158">22</text><text x="615" y="1210">23</text><text x="615" y="1262">24</text><text x="615" y="1314">25</text><text x="615" y="1366">26</text><text x="615" y="1418">27</text><text x="615" y="1470">28</text><text x="615" y="1522">29</text><text x="615" y="1574">30</text>
<text x="615" y="1626">31</text><text x="615" y="1678">32</text><text x="615" y="1730">33</text><text x="615" y="1782">34</text><text x="615" y="1834">35</text><text x="615" y="1886">36</text><text x="615" y="1938">37</text><text x="615" y="1990">38</text><text x="615" y="2042">39</text><text x="615" y="2094">40</text>
<text x="615" y="2146">41</text><text x="615" y="2198">42</text><text x="615" y="2250">43</text><text x="615" y="2302">44</text><text x="615" y="2354">45</text><text x="615" y="2406">46</text><text x="615" y="2458">47</text><text x="615" y="2510">48</text><text x="615" y="2562">49</text><text x="615" y="2614">50</text>
<text x="615" y="2666">51</text><text x="615" y="2718">52</text><text x="615" y="2770">53</text><text x="615" y="2822">54</text><text x="615" y="2874">55</text><text x="615" y="2926">56</text><text x="615" y="2978">57</text><text x="615" y="3030">58</text><text x="615" y="3082">59</text><text x="615" y="3134">60</text>
<text x="615" y="3186">61</text><text x="615" y="3238">62</text><text x="615" y="3290">63</text><text x="615" y="3342">64</text><text x="615" y="3394">65</text>
</g>
</g>
<text class="wm" x="318" y="1757">BRACELETBOOK.COM</text>
</svg>
